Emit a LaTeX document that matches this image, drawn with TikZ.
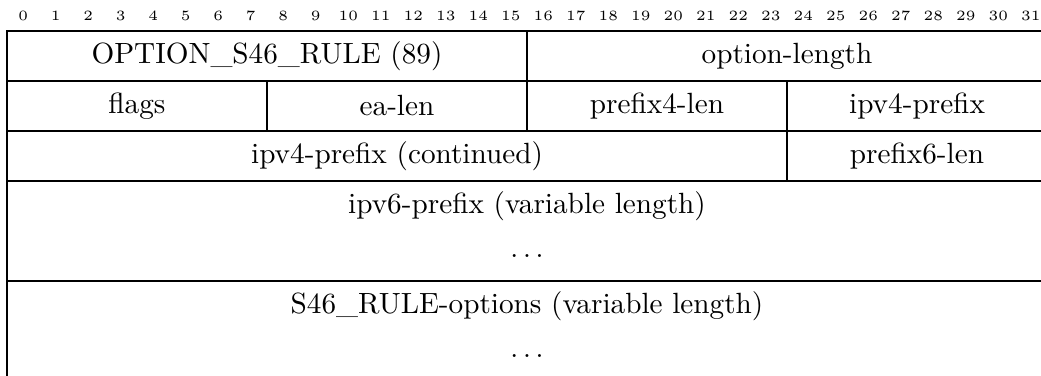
\documentclass[tikz,border=0pt]{standalone}
\usepackage{tikz}

% one unit = one grid pixel; a bit column is 32.5 units wide, a row 50 units high
\tikzset{
  rule/.style={draw=black, line width=0.4pt},
  fieldtext/.style={inner sep=0pt, font=\fontsize{10.3}{12.4}\selectfont},
  bitnum/.style={inner sep=0pt, font=\fontsize{5}{6}\selectfont},
}

\begin{document}
\begin{tikzpicture}[x=0.3522pt, y=-0.3522pt]
  \useasboundingbox (0,0) rectangle (1041,376);

  % bit positions above the header
  \foreach \i in {0,...,31}
    \node[bitnum] (bit\i) at ({7+32.5*(\i+0.5)},16) {\i};

  % field boxes, row by row
  \draw[rule] (7,31) rectangle (527,81);
  \draw[rule] (527,31) rectangle (1047,81);
  \draw[rule] (7,81) rectangle (267,131);
  \draw[rule] (267,81) rectangle (527,131);
  \draw[rule] (527,81) rectangle (787,131);
  \draw[rule] (787,81) rectangle (1047,131);
  \draw[rule] (7,131) rectangle (787,181);
  \draw[rule] (787,131) rectangle (1047,181);
  \draw[rule] (7,181) rectangle (1047,281);
  \draw[rule] (7,281) rectangle (1047,381);

  % field names
  \node[fieldtext] (code)    at (267,56)  {OPTION\_S46\_RULE (89)};
  \node[fieldtext] (len)     at (787,56)  {option-length};
  \node[fieldtext] (flags)   at (137,106) {flags};
  \node[fieldtext] (ealen)   at (397,106) {ea-len};
  \node[fieldtext] (p4len)   at (657,106) {prefix4-len};
  \node[fieldtext] (p4a)     at (917,106) {ipv4-prefix};
  \node[fieldtext] (p4b)     at (397,156) {ipv4-prefix (continued)};
  \node[fieldtext] (p6len)   at (917,156) {prefix6-len};
  \node[fieldtext] (p6)      at (527,206) {ipv6-prefix (variable length)};
  \node[fieldtext] (p6dots)  at (527,256) {$\ldots$};
  \node[fieldtext] (opts)    at (527,306) {S46\_RULE-options (variable length)};
  \node[fieldtext] (optdots) at (527,356) {$\ldots$};
\end{tikzpicture}
\end{document}
